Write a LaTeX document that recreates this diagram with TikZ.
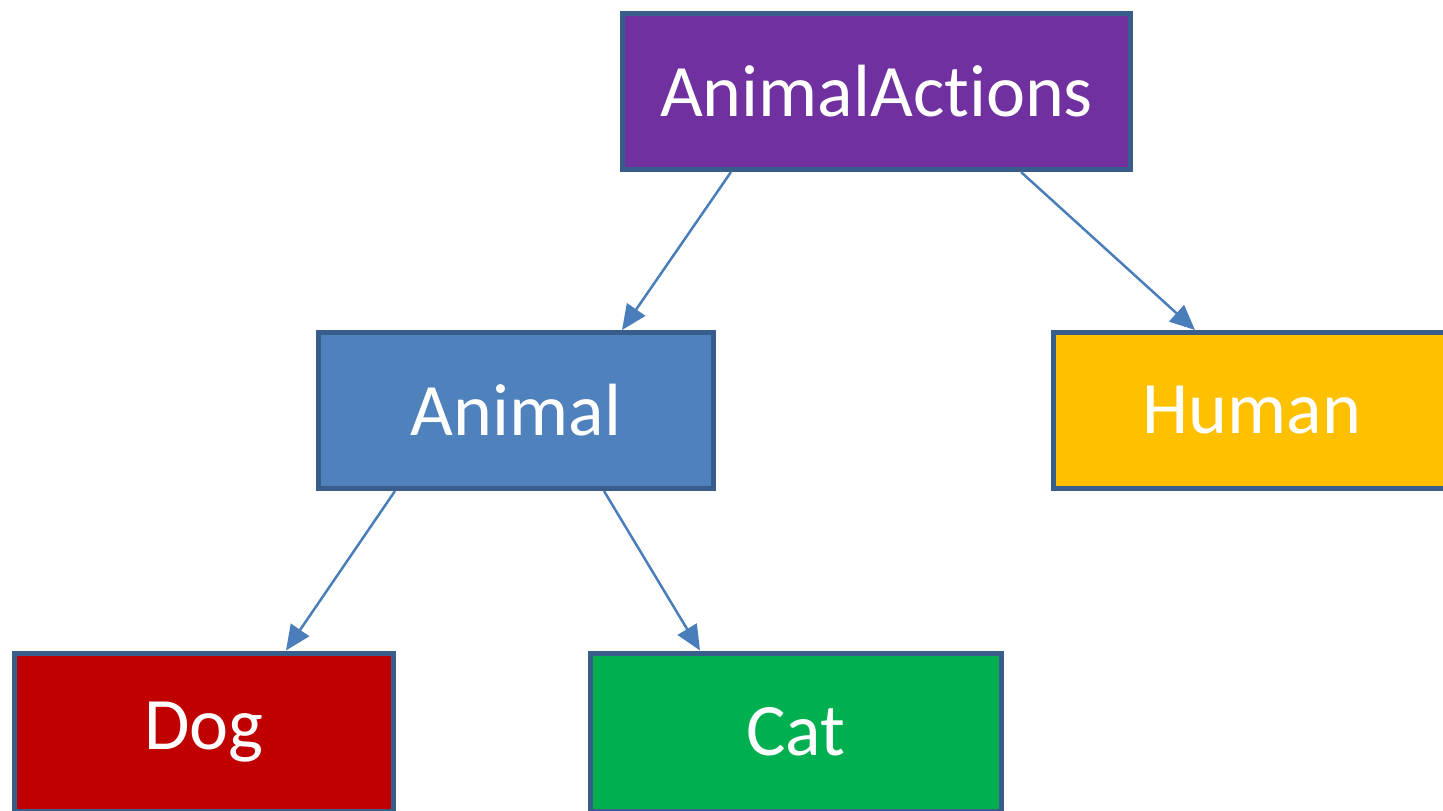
\documentclass[tikz,border=0pt]{standalone}
\usepackage{fontspec}
\setmainfont{Carlito}[Ligatures={NoCommon,NoContextual,NoRare}]
\usetikzlibrary{arrows.meta}
\definecolor{bordercol}{HTML}{385D8A}
\definecolor{arrowcol}{HTML}{4A7EBB}
\definecolor{purplecol}{HTML}{7030A0}
\definecolor{bluecol}{HTML}{4F81BD}
\definecolor{yellowcol}{HTML}{FFC000}
\definecolor{redcol}{HTML}{C00000}
\definecolor{greencol}{HTML}{00B050}
\tikzset{
  box/.style={draw=bordercol, line width=5pt, rectangle, inner sep=0pt,
    minimum height=156pt, text=white, font=\fontsize{74}{80}\selectfont},
  conn/.style={draw=arrowcol, line width=2.5pt, -{Triangle[length=25pt,width=22pt]}}
}
\begin{document}
\begin{tikzpicture}[x=1pt,y=-1pt]
\useasboundingbox (0,0) rectangle (1443,811);
\clip (0,0) rectangle (1443,811);
\fill[white] (0,0) rectangle (1443,811);
\node[box, fill=purplecol, minimum width=508pt] (aa) at (876.5,91.5) {AnimalAct\kern0pt ions};
\node[box, fill=bluecol, minimum width=395pt] (an) at (516,410.5) {Animal};
\node[box, fill=yellowcol, minimum width=397pt] (hu) at (1252,410.5) {Human};
\node[box, fill=redcol, minimum width=379pt, minimum height=158pt] (dog) at (204,732) {Dog};
\node[box, fill=greencol, minimum width=411pt, minimum height=158pt] (cat) at (796,732) {Cat};
\draw[conn] ([xshift=111pt]aa.south west) -- ([xshift=306pt]an.north west);
\draw[conn] ([xshift=401pt]aa.south west) -- ([xshift=144pt]hu.north west);
\draw[conn] ([xshift=79pt]an.south west) -- ([xshift=274pt]dog.north west);
\draw[conn] ([xshift=288pt]an.south west) -- ([xshift=112pt]cat.north west);
\end{tikzpicture}
\end{document}
